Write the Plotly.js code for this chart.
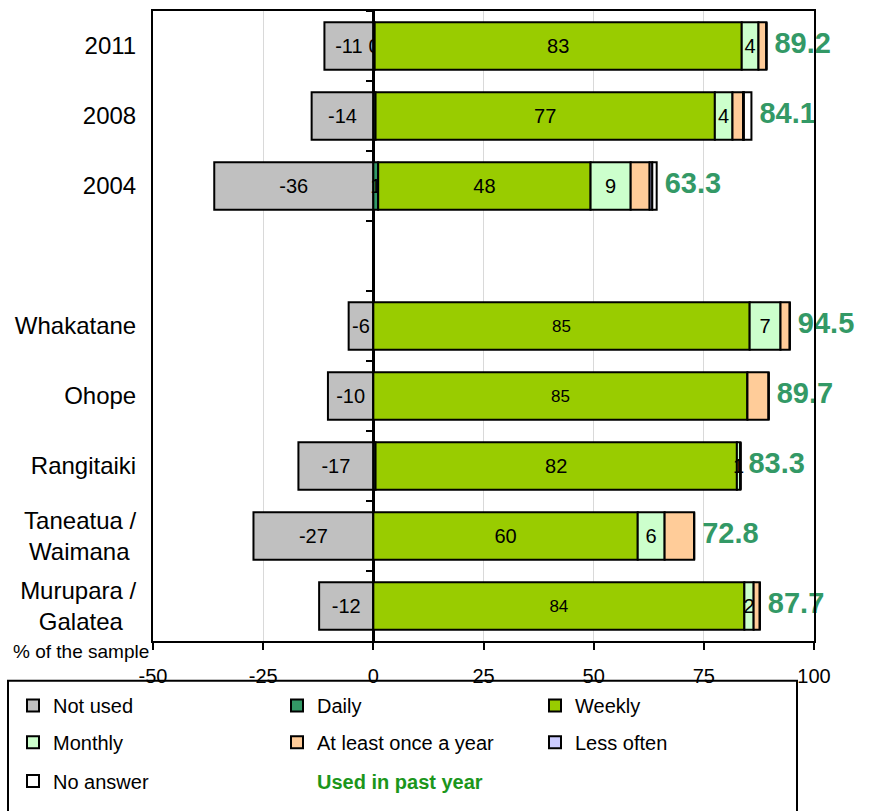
<!DOCTYPE html>
<html>
<head>
<meta charset="utf-8">
<script src="https://cdn.plot.ly/plotly-3.0.1.min.js"></script>
<style>html,body{margin:0;padding:0;background:#fff;}#chart{width:869px;height:811px;}</style>
</head>
<body>
<div id="chart"></div>
<script>
// ---- data ----
const categories = ['2011', '2008', '2004', ' ', 'Whakatane', 'Ohope', 'Rangitaiki', 'Taneatua /<br>Waimana\u00a0', 'Murupara /<br>Galatea\u00a0\u00a0'];
const notUsed   = [-11.1, -14.0, -36.1, null, -5.6, -10.3, -17.0, -27.2, -12.3];
const daily     = [0.3, 0.5, 1.1, null, 0, 0, 0.5, 0, 0];
const weekly    = [83.3, 77.0, 48.2, null, 85.4, 84.9, 82.0, 60.0, 84.2];
const monthly   = [3.8, 4.0, 9.1, null, 7.0, 0, 0.8, 6.1, 2.1];
const annual    = [1.8, 2.4, 4.3, null, 2.1, 4.8, 0, 6.7, 1.4];
const lessOften = [0, 0.2, 0.6, null, 0, 0, 0, 0, 0];
const noAnswer  = [0, 1.7, 1.0, null, 0, 0, 0, 0, 0];
const usedPastYear = [89.2, 84.1, 63.3, null, 94.5, 89.7, 83.3, 72.8, 87.7];
const xTicks = [-50, -25, 0, 25, 50, 75, 100];

// which segment labels are shown in the original
const showDaily   = [1, 0, 1, 0, 0, 0, 0, 0, 0];
const showMonthly = [1, 1, 1, 0, 1, 0, 1, 1, 1];
const weeklySizes = [20, 20, 20, 20, 17, 17, 20, 20, 17];

const FONT = 'Liberation Sans, Arial, sans-serif';
function lbl(vals, mask) {
  return vals.map((v, i) => (v === null || (mask && !mask[i])) ? '' : String(Math.round(v)));
}
function barTrace(name, vals, color, legend, text, sizes) {
  return {
    type: 'bar', orientation: 'h', name: name, x: vals, y: categories,
    legend: legend, showlegend: true,
    marker: {color: color, line: {color: '#000', width: 2}},
    text: text, textposition: 'inside', insidetextanchor: 'middle',
    textangle: 0, constraintext: 'none',
    textfont: {family: FONT, size: sizes || 20, color: '#000'},
    insidetextfont: {family: FONT, size: sizes || 20, color: '#000'},
    hoverinfo: 'x+name'
  };
}
const stackEnd = categories.map((c, i) => usedPastYear[i] === null ? null :
  daily[i] + weekly[i] + monthly[i] + annual[i] + lessOften[i] + noAnswer[i]);

const traces = [
  barTrace('Not used', notUsed, '#C0C0C0', 'legend', lbl(notUsed)),
  barTrace('Daily', daily, '#339966', 'legend2', lbl(daily, showDaily)),
  barTrace('Weekly', weekly, '#99CC00', 'legend3', lbl(weekly), weeklySizes),
  barTrace('Monthly', monthly, '#CCFFCC', 'legend4', lbl(monthly, showMonthly)),
  barTrace('At least once a year', annual, '#FFCC99', 'legend5', null),
  barTrace('Less often', lessOften, '#CCCCFF', 'legend6', null),
  barTrace('No answer', noAnswer, '#FFFFFF', 'legend7', null),
  {
    // "Used in past year" series: invisible bar (legend entry), labels drawn below
    type: 'bar', orientation: 'h', x: usedPastYear, y: categories, base: 0,
    legend: 'legend8', showlegend: true,
    name: '<span style="color:#1b961b"><b>Used in past year</b></span>',
    marker: {color: 'rgba(0,0,0,0)', line: {width: 0}}, hoverinfo: 'skip'
  },
  {
    type: 'scatter', mode: 'text', x: stackEnd, y: categories, yaxis: 'y2',
    text: usedPastYear.map(v => v === null ? '' : v.toFixed(1)),
    texttemplate: '\u00a0<b>%{text}</b>',
    textposition: 'middle right', cliponaxis: false, showlegend: false,
    textfont: {family: FONT, size: 29, color: '#339966'}
  }
];

const plotL = 153, plotR = 814, plotT = 11, plotB = 646, W = 869, H = 811;
const pw = plotR - plotL, ph = plotB - plotT;
const px = v => (v - plotL) / pw;
const py = v => (plotB - v) / ph;

// legend grid: text start columns and row centres (pixels)
const colText = [53, 317, 575];
const rowMid = [711, 748, 787];
function legendAt(col, row) {
  return {
    visible: true,
    orientation: 'h', xanchor: 'left', yanchor: 'middle',
    x: px(colText[col] - 40), y: py(rowMid[row]),
    bgcolor: 'rgba(0,0,0,0)', borderwidth: 0,
    font: {family: FONT, size: 20, color: '#000'}
  };
}

const layout = {
  width: W, height: H,
  showlegend: true,
  margin: {l: plotL, r: W - plotR, t: plotT, b: H - plotB},
  paper_bgcolor: '#fff', plot_bgcolor: '#fff',
  barmode: 'relative', bargap: 0.32,
  font: {family: FONT, color: '#000'},
  xaxis: {
    range: [-50, 100], tickvals: xTicks, ticktext: xTicks.map(String),
    ticks: 'outside', ticklen: 7, tickwidth: 2, tickcolor: '#000',
    ticklabelstandoff: 9,
    tickfont: {family: FONT, size: 20, color: '#000'},
    showgrid: true, gridcolor: '#d9d9d9', gridwidth: 1,
    zeroline: true, zerolinecolor: '#000', zerolinewidth: 2.5,
    showline: true, linecolor: '#000', linewidth: 2, mirror: true,
    fixedrange: true
  },
  yaxis: {
    type: 'category', categoryorder: 'array', categoryarray: categories,
    autorange: 'reversed', ticks: '', ticklabelstandoff: 10,
    tickfont: {family: FONT, size: 24, color: '#000'},
    showgrid: false, zeroline: false,
    showline: true, linecolor: '#000', linewidth: 2, mirror: true,
    fixedrange: true
  },
  yaxis2: {
    type: 'category', matches: 'y', overlaying: 'y', anchor: 'free', position: 1 / 3,
    side: 'left', ticks: 'outside', tickson: 'boundaries', ticklen: 7, tickwidth: 2,
    tickcolor: '#000', showticklabels: false, showgrid: false, zeroline: false,
    showline: false, fixedrange: true
  },
  legend: legendAt(0, 0),
  legend2: legendAt(1, 0),
  legend3: legendAt(2, 0),
  legend4: legendAt(0, 1),
  legend5: legendAt(1, 1),
  legend6: legendAt(2, 1),
  legend7: legendAt(0, 2),
  legend8: legendAt(1, 2),
  shapes: [{
    type: 'rect', xref: 'paper', yref: 'paper',
    x0: px(8), x1: px(797), y0: py(686), y1: py(830),
    line: {color: '#000', width: 2}, fillcolor: 'rgba(0,0,0,0)', layer: 'below'
  }],
  annotations: [{
    xref: 'paper', yref: 'paper', x: px(11), y: py(657),
    xanchor: 'left', yanchor: 'middle', showarrow: false,
    text: '% of the sample', font: {family: FONT, size: 19, color: '#000'}
  }]
};

Plotly.newPlot('chart', traces, layout, {displayModeBar: false, staticPlot: true});
</script>
</body>
</html>
